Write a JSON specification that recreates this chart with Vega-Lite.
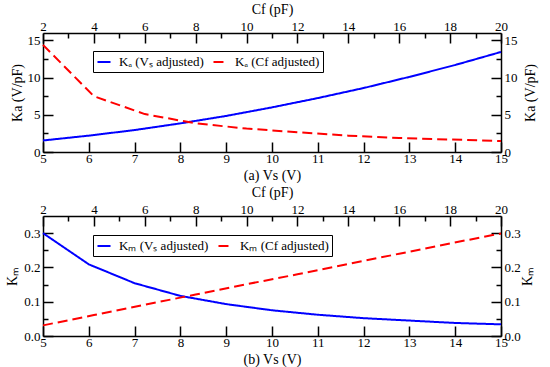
{
  "$schema": "https://vega.github.io/schema/vega-lite/v6.json",
  "padding": {"left": 5, "top": 2, "right": 2, "bottom": 1},
  "background": "white",
  "datasets": {
    "ka": [
      {"series": "Kₐ (Vₛ adjusted)", "Vs": 5, "Ka": 1.55},
      {"series": "Kₐ (Vₛ adjusted)", "Vs": 6, "Ka": 2.2},
      {"series": "Kₐ (Vₛ adjusted)", "Vs": 7, "Ka": 2.95},
      {"series": "Kₐ (Vₛ adjusted)", "Vs": 8, "Ka": 3.85},
      {"series": "Kₐ (Vₛ adjusted)", "Vs": 9, "Ka": 4.85},
      {"series": "Kₐ (Vₛ adjusted)", "Vs": 10, "Ka": 6.0},
      {"series": "Kₐ (Vₛ adjusted)", "Vs": 11, "Ka": 7.25},
      {"series": "Kₐ (Vₛ adjusted)", "Vs": 12, "Ka": 8.6},
      {"series": "Kₐ (Vₛ adjusted)", "Vs": 13, "Ka": 10.1},
      {"series": "Kₐ (Vₛ adjusted)", "Vs": 14, "Ka": 11.7},
      {"series": "Kₐ (Vₛ adjusted)", "Vs": 15, "Ka": 13.45},
      {"series": "Kₐ (Cf adjusted)", "Cf": 2, "Ka": 14.4},
      {"series": "Kₐ (Cf adjusted)", "Cf": 4, "Ka": 7.5},
      {"series": "Kₐ (Cf adjusted)", "Cf": 6, "Ka": 5.1},
      {"series": "Kₐ (Cf adjusted)", "Cf": 8, "Ka": 3.85},
      {"series": "Kₐ (Cf adjusted)", "Cf": 10, "Ka": 3.15},
      {"series": "Kₐ (Cf adjusted)", "Cf": 12, "Ka": 2.65},
      {"series": "Kₐ (Cf adjusted)", "Cf": 14, "Ka": 2.2},
      {"series": "Kₐ (Cf adjusted)", "Cf": 16, "Ka": 1.88},
      {"series": "Kₐ (Cf adjusted)", "Cf": 18, "Ka": 1.68},
      {"series": "Kₐ (Cf adjusted)", "Cf": 20, "Ka": 1.48}
    ],
    "km": [
      {"series": "Kₘ (Vₛ adjusted)", "Vs": 5, "KM": 0.300},
      {"series": "Kₘ (Vₛ adjusted)", "Vs": 6, "KM": 0.209},
      {"series": "Kₘ (Vₛ adjusted)", "Vs": 7, "KM": 0.154},
      {"series": "Kₘ (Vₛ adjusted)", "Vs": 8, "KM": 0.117},
      {"series": "Kₘ (Vₛ adjusted)", "Vs": 9, "KM": 0.093},
      {"series": "Kₘ (Vₛ adjusted)", "Vs": 10, "KM": 0.075},
      {"series": "Kₘ (Vₛ adjusted)", "Vs": 11, "KM": 0.062},
      {"series": "Kₘ (Vₛ adjusted)", "Vs": 12, "KM": 0.052},
      {"series": "Kₘ (Vₛ adjusted)", "Vs": 13, "KM": 0.045},
      {"series": "Kₘ (Vₛ adjusted)", "Vs": 14, "KM": 0.038},
      {"series": "Kₘ (Vₛ adjusted)", "Vs": 15, "KM": 0.034},
      {"series": "Kₘ (Cf adjusted)", "Cf": 2, "KM": 0.031},
      {"series": "Kₘ (Cf adjusted)", "Cf": 4, "KM": 0.061},
      {"series": "Kₘ (Cf adjusted)", "Cf": 6, "KM": 0.091},
      {"series": "Kₘ (Cf adjusted)", "Cf": 8, "KM": 0.121},
      {"series": "Kₘ (Cf adjusted)", "Cf": 10, "KM": 0.151},
      {"series": "Kₘ (Cf adjusted)", "Cf": 12, "KM": 0.180},
      {"series": "Kₘ (Cf adjusted)", "Cf": 14, "KM": 0.210},
      {"series": "Kₘ (Cf adjusted)", "Cf": 16, "KM": 0.240},
      {"series": "Kₘ (Cf adjusted)", "Cf": 18, "KM": 0.270},
      {"series": "Kₘ (Cf adjusted)", "Cf": 20, "KM": 0.299}
    ]
  },
  "spacing": 3,
  "vconcat": [
    {
      "width": 458,
      "height": 119,
      "data": {"name": "ka"},
      "layer": [
        {
          "transform": [{"filter": "datum.Vs != null"}],
          "mark": {"type": "line", "strokeWidth": 2},
          "encoding": {
            "x": {"field": "Vs", "type": "quantitative",
              "scale": {"domain": [5, 15], "nice": false, "zero": false},
              "axis": {"orient": "bottom", "title": "(a)  Vs (V)", "format": "d",
                "values": [5,5.5,6,6.5,7,7.5,8,8.5,9,9.5,10,10.5,11,11.5,12,12.5,13,13.5,14,14.5,15],
                "labelExpr": "datum.value % 1 === 0 ? datum.label : ''",
                "tickSize": {"condition": {"test": "datum.value % 1 !== 0", "value": -5}, "value": -10},
                "labelPadding": 10, "titlePadding": 3}},
            "y": {"field": "Ka", "type": "quantitative",
              "scale": {"domain": [0, 16], "nice": false},
              "axis": {"orient": "left", "title": "Ka (V/pF)", "format": "d",
                "values": [0,2.5,5,7.5,10,12.5,15],
                "labelExpr": "datum.value % 5 === 0 ? datum.label : ''",
                "tickSize": {"condition": {"test": "datum.value % 5 !== 0", "value": -5}, "value": -10},
                "labelPadding": 13, "titlePadding": 3}},
            "color": {"field": "series", "type": "nominal",
              "scale": {"domain": ["Kₐ (Vₛ adjusted)", "Kₐ (Cf adjusted)"], "range": ["#0000ff", "#ff0000"]},
              "legend": {"orient": "none", "legendX": 50, "legendY": 18, "direction": "horizontal", "title": null}},
            "strokeDash": {"field": "series", "type": "nominal",
              "scale": {"domain": ["Kₐ (Vₛ adjusted)", "Kₐ (Cf adjusted)"], "range": [[1, 0], [10, 5]]},
              "legend": {"orient": "none", "legendX": 50, "legendY": 18, "direction": "horizontal", "title": null}}
          }
        },
        {
          "transform": [{"filter": "datum.Cf != null"}],
          "mark": {"type": "line", "strokeWidth": 2},
          "encoding": {
            "x": {"field": "Cf", "type": "quantitative",
              "scale": {"domain": [2, 20], "nice": false, "zero": false},
              "axis": {"orient": "top", "title": "Cf (pF)", "format": "d",
                "values": [2,3,4,5,6,7,8,9,10,11,12,13,14,15,16,17,18,19,20],
                "labelExpr": "datum.value % 2 === 0 ? datum.label : ''",
                "tickSize": {"condition": {"test": "datum.value % 2 !== 0", "value": -5}, "value": -10},
                "labelPadding": 10, "titlePadding": -1}},
            "y": {"field": "Ka", "type": "quantitative",
              "scale": {"domain": [0, 16], "nice": false},
              "axis": {"orient": "right", "title": "Ka (V/pF)", "titleAngle": 270, "format": "d",
                "values": [0,2.5,5,7.5,10,12.5,15],
                "labelExpr": "datum.value % 5 === 0 ? datum.label : ''",
                "tickSize": {"condition": {"test": "datum.value % 5 !== 0", "value": -5}, "value": -10},
                "labelPadding": 13, "titlePadding": 20}},
            "color": {"field": "series", "type": "nominal",
              "scale": {"domain": ["Kₐ (Vₛ adjusted)", "Kₐ (Cf adjusted)"], "range": ["#0000ff", "#ff0000"]}},
            "strokeDash": {"field": "series", "type": "nominal",
              "scale": {"domain": ["Kₐ (Vₛ adjusted)", "Kₐ (Cf adjusted)"], "range": [[1, 0], [10, 5]]}}
          }
        }
      ],
      "resolve": {"scale": {"x": "independent", "y": "independent"}}
    },
    {
      "width": 458,
      "height": 120,
      "data": {"name": "km"},
      "layer": [
        {
          "transform": [{"filter": "datum.Vs != null"}],
          "mark": {"type": "line", "strokeWidth": 2},
          "encoding": {
            "x": {"field": "Vs", "type": "quantitative",
              "scale": {"domain": [5, 15], "nice": false, "zero": false},
              "axis": {"orient": "bottom", "title": "(b)  Vs (V)", "format": "d",
                "values": [5,5.5,6,6.5,7,7.5,8,8.5,9,9.5,10,10.5,11,11.5,12,12.5,13,13.5,14,14.5,15],
                "labelExpr": "datum.value % 1 === 0 ? datum.label : ''",
                "tickSize": {"condition": {"test": "datum.value % 1 !== 0", "value": -5}, "value": -10},
                "labelPadding": 10, "titlePadding": 3}},
            "y": {"field": "KM", "type": "quantitative",
              "scale": {"domain": [0, 0.35], "nice": false},
              "axis": {"orient": "left", "title": "Kₘ", "format": ".1f",
                "values": [0,0.05,0.1,0.15,0.2,0.25,0.3],
                "labelExpr": "round(datum.value * 100) % 10 === 0 ? datum.label : ''",
                "tickSize": {"condition": {"test": "round(datum.value * 100) % 10 !== 0", "value": -5}, "value": -10},
                "labelPadding": 13, "titlePadding": 4}},
            "color": {"field": "series", "type": "nominal",
              "scale": {"domain": ["Kₘ (Vₛ adjusted)", "Kₘ (Cf adjusted)"], "range": ["#0000ff", "#ff0000"]},
              "legend": {"orient": "none", "legendX": 50, "legendY": 19, "direction": "horizontal", "title": null}},
            "strokeDash": {"field": "series", "type": "nominal",
              "scale": {"domain": ["Kₘ (Vₛ adjusted)", "Kₘ (Cf adjusted)"], "range": [[1, 0], [10, 5]]},
              "legend": {"orient": "none", "legendX": 50, "legendY": 19, "direction": "horizontal", "title": null}}
          }
        },
        {
          "transform": [{"filter": "datum.Cf != null"}],
          "mark": {"type": "line", "strokeWidth": 2},
          "encoding": {
            "x": {"field": "Cf", "type": "quantitative",
              "scale": {"domain": [2, 20], "nice": false, "zero": false},
              "axis": {"orient": "top", "title": "Cf (pF)", "format": "d",
                "values": [2,3,4,5,6,7,8,9,10,11,12,13,14,15,16,17,18,19,20],
                "labelExpr": "datum.value % 2 === 0 ? datum.label : ''",
                "tickSize": {"condition": {"test": "datum.value % 2 !== 0", "value": -5}, "value": -10},
                "labelPadding": 10, "titlePadding": -1}},
            "y": {"field": "KM", "type": "quantitative",
              "scale": {"domain": [0, 0.35], "nice": false},
              "axis": {"orient": "right", "title": "Kₘ", "titleAngle": 270, "format": ".1f",
                "values": [0,0.05,0.1,0.15,0.2,0.25,0.3],
                "labelExpr": "round(datum.value * 100) % 10 === 0 ? datum.label : ''",
                "tickSize": {"condition": {"test": "round(datum.value * 100) % 10 !== 0", "value": -5}, "value": -10},
                "labelPadding": 13, "titlePadding": 14}},
            "color": {"field": "series", "type": "nominal",
              "scale": {"domain": ["Kₘ (Vₛ adjusted)", "Kₘ (Cf adjusted)"], "range": ["#0000ff", "#ff0000"]}},
            "strokeDash": {"field": "series", "type": "nominal",
              "scale": {"domain": ["Kₘ (Vₛ adjusted)", "Kₘ (Cf adjusted)"], "range": [[1, 0], [10, 5]]}}
          }
        }
      ],
      "resolve": {"scale": {"x": "independent", "y": "independent"}}
    }
  ],
  "resolve": {"scale": {"color": "independent", "strokeDash": "independent"}, "legend": {"color": "independent", "strokeDash": "independent"}},
  "config": {
    "font": "Liberation Serif",
    "view": {"stroke": null},
    "axis": {
      "grid": false,
      "labelFont": "Liberation Serif", "labelFontSize": 13, "labelColor": "black",
      "labelFlush": false, "labelOverlap": false,
      "titleFont": "Liberation Serif", "titleFontSize": 14, "titleFontWeight": "normal", "titleColor": "black",
      "domainColor": "black", "domainWidth": 1.5,
      "tickColor": "black", "tickWidth": 1.5
    },
    "legend": {
      "labelFont": "Liberation Serif", "labelFontSize": 13, "labelColor": "black",
      "symbolType": "stroke", "symbolSize": 170, "symbolStrokeWidth": 2,
      "strokeColor": "black", "padding": 3, "columnPadding": 5, "labelOffset": 7,
      "fillColor": "white"
    }
  }
}
